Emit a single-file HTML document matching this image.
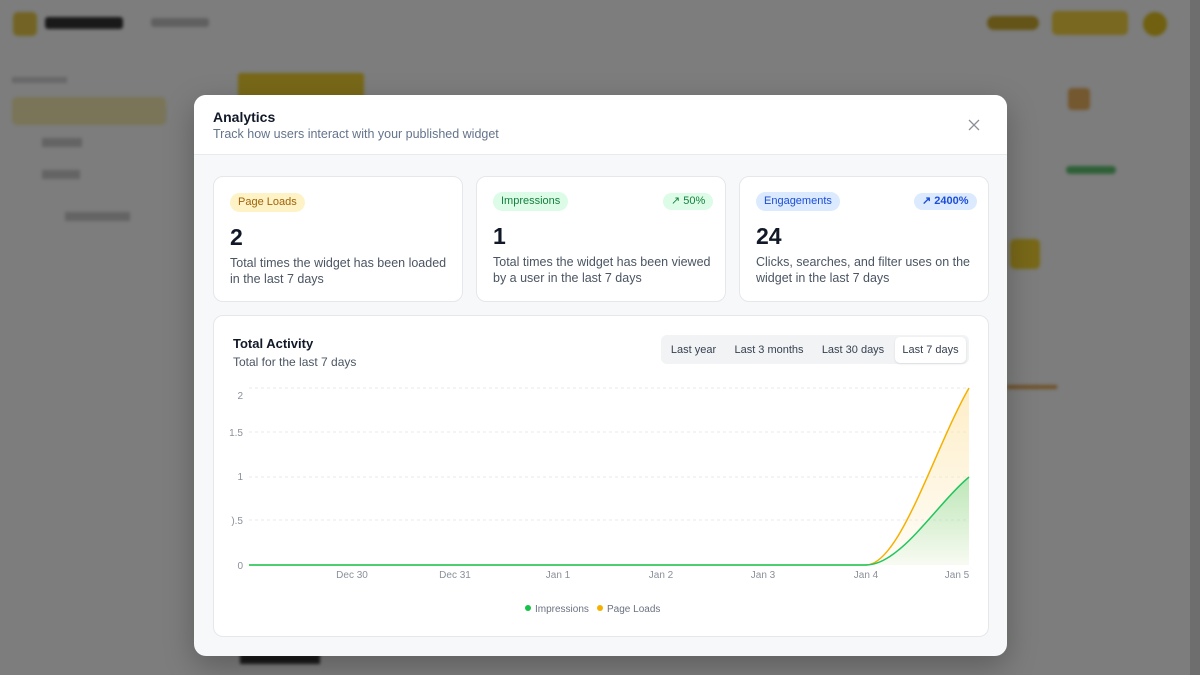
<!DOCTYPE html>
<html style="background:#7c7d7c"><head><meta charset="utf-8">
<style>
*{box-sizing:border-box;margin:0;padding:0}
body{width:1200px;height:675px;overflow:hidden;background:#f9faf9;font-family:"Liberation Sans",sans-serif;position:relative;color:#111827}
.abs{position:absolute}
.blur{filter:blur(1.5px)}
.ov{position:absolute;left:0;top:0;width:1200px;height:675px;background:rgba(0,0,0,0.5)}
.modal{position:absolute;left:194px;top:95px;width:813px;height:561px;background:#f7f8fa;border-radius:12px;overflow:hidden;box-shadow:0 10px 30px rgba(0,0,0,.25)}
.hdr{position:absolute;left:0;top:0;width:813px;height:60px;background:#fff;border-bottom:1px solid #e8eaee}
.card{position:absolute;background:#fff;border:1px solid #e5e7eb;border-radius:10px}
.pill{position:absolute;font-size:11px;padding:0 8px;height:19px;line-height:19px;border-radius:10px}
.big{position:absolute;font-size:23px;font-weight:bold;color:#111827}
.desc{position:absolute;font-size:12.5px;color:#4b5563;line-height:16px}
.tab{position:absolute;top:0;height:26px;line-height:26px;font-size:11px;color:#374151;text-align:center}
</style></head><body>
<div class="abs blur" style="left:13px;top:12px;width:24px;height:24px;background:#e6c84a;border-radius:5px"></div>
<div class="abs blur" style="left:45px;top:17px;width:78px;height:12px;background:#333;border-radius:3px"></div>
<div class="abs blur" style="left:151px;top:18px;width:58px;height:9px;background:#c0c0c0;border-radius:3px"></div>
<div class="abs blur" style="left:12px;top:77px;width:55px;height:6px;background:#d0d0d0"></div>
<div class="abs blur" style="left:12px;top:97px;width:154px;height:28px;background:#f4e9b0;border-radius:5px"></div>
<div class="abs blur" style="left:42px;top:138px;width:40px;height:9px;background:#c8c8c8"></div>
<div class="abs blur" style="left:42px;top:170px;width:38px;height:9px;background:#c8c8c8"></div>
<div class="abs blur" style="left:65px;top:212px;width:65px;height:9px;background:#c8c8c8"></div>
<div class="abs blur" style="left:238px;top:73px;width:126px;height:26px;background:#f0d030;border-radius:3px"></div>
<div class="abs blur" style="left:987px;top:16px;width:52px;height:14px;background:#c9a830;border-radius:7px"></div>
<div class="abs blur" style="left:1052px;top:11px;width:76px;height:24px;background:#f2d040;border-radius:5px"></div>
<div class="abs blur" style="left:1143px;top:12px;width:24px;height:24px;background:#e0c020;border-radius:12px"></div>
<div class="abs blur" style="left:1068px;top:88px;width:22px;height:22px;background:#e8b060;border-radius:4px"></div>
<div class="abs blur" style="left:1066px;top:166px;width:50px;height:8px;background:#60c070;border-radius:4px"></div>
<div class="abs blur" style="left:1010px;top:239px;width:30px;height:30px;background:#f0d030;border-radius:5px"></div>
<div class="abs blur" style="left:1007px;top:385px;width:50px;height:4px;background:#e0a050"></div>
<div class="abs blur" style="left:240px;top:654px;width:80px;height:10px;background:#333"></div>
<div class="ov"></div>
<div class="abs" style="left:1190px;top:0;width:10px;height:675px;background:#6d6e6d"></div>

<div class="modal">
  <div class="hdr">
    <div class="abs" style="left:19px;top:14px;font-size:14px;font-weight:bold">Analytics</div>
    <div class="abs" style="left:19px;top:32px;font-size:12.5px;color:#64748b">Track how users interact with your published widget</div>
    <svg class="abs" style="left:774px;top:24px" width="12" height="12"><path d="M1 1L11 11M11 1L1 11" stroke="#8a8f98" stroke-width="1.3"/></svg>
  </div>
  <div class="card" style="left:19px;top:81px;width:250px;height:126px">
    <div class="pill" style="left:16px;top:16px;background:#fef3c7;color:#a16207">Page Loads</div>
    <div class="big" style="left:16px;top:47px">2</div>
    <div class="desc" style="left:16px;top:78px;width:220px">Total times the widget has been loaded in the last 7 days</div>
  </div>
  <div class="card" style="left:282px;top:81px;width:250px;height:126px">
    <div class="pill" style="left:16px;top:15px;background:#dcfce7;color:#15803d">Impressions</div>
    <div class="pill" style="left:186px;top:16px;height:17px;line-height:17px;background:#dcfce7;color:#15803d">↗ 50%</div>
    <div class="big" style="left:16px;top:46px">1</div>
    <div class="desc" style="left:16px;top:77px;width:220px">Total times the widget has been viewed by a user in the last 7 days</div>
  </div>
  <div class="card" style="left:545px;top:81px;width:250px;height:126px">
    <div class="pill" style="left:16px;top:15px;background:#dbeafe;color:#1d4ed8">Engagements</div>
    <div class="pill" style="left:174px;top:16px;height:17px;line-height:17px;background:#dbeafe;color:#1d4ed8;font-weight:bold">↗ 2400%</div>
    <div class="big" style="left:16px;top:46px">24</div>
    <div class="desc" style="left:16px;top:77px;width:220px">Clicks, searches, and filter uses on the widget in the last 7 days</div>
  </div>
  <div class="card" style="left:19px;top:220px;width:776px;height:322px">
    <div class="abs" style="left:19px;top:20px;font-size:13px;font-weight:bold">Total Activity</div>
    <div class="abs" style="left:19px;top:39px;font-size:12px;color:#4b5563">Total for the last 7 days</div>
    <div class="abs" style="left:447px;top:19px;width:308px;height:29px;background:#f1f3f5;border-radius:6px">
      <div class="tab" style="left:4px;top:2px;width:57px">Last year</div>
      <div class="tab" style="left:68px;top:2px;width:80px">Last 3 months</div>
      <div class="tab" style="left:154px;top:2px;width:76px">Last 30 days</div>
      <div class="tab" style="left:234px;top:2px;width:71px;background:#fff;border-radius:5px;box-shadow:0 1px 2px rgba(0,0,0,.1)">Last 7 days</div>
    </div>
  </div>
  <svg class="abs" style="left:0;top:0" width="813" height="561">
    <defs>
      <linearGradient id="gy" x1="0" y1="0" x2="0" y2="1"><stop offset="0" stop-color="#fde7b0" stop-opacity=".7"/><stop offset="1" stop-color="#fde7b0" stop-opacity=".1"/></linearGradient>
      <linearGradient id="gg" x1="0" y1="0" x2="0" y2="1"><stop offset="0" stop-color="#22c55e" stop-opacity=".3"/><stop offset="1" stop-color="#22c55e" stop-opacity=".03"/></linearGradient>
    </defs>
    <g stroke="#e8eaee" stroke-dasharray="3 3" stroke-width="1">
      <line x1="55" x2="775" y1="293" y2="293"/><line x1="55" x2="775" y1="337" y2="337"/>
      <line x1="55" x2="775" y1="382" y2="382"/><line x1="55" x2="775" y1="425" y2="425"/>
    </g>
    <g font-family="Liberation Sans" font-size="10" fill="#8a909a" text-anchor="end">
      <text x="49" y="304">2</text><text x="49" y="341">1.5</text><text x="49" y="385">1</text>
      <text x="49" y="429">).5</text><text x="49" y="474">0</text>
    </g>
    <g font-family="Liberation Sans" font-size="10" fill="#8a909a" text-anchor="middle">
      <text x="158" y="483">Dec 30</text><text x="261" y="483">Dec 31</text><text x="364" y="483">Jan 1</text>
      <text x="467" y="483">Jan 2</text><text x="569" y="483">Jan 3</text><text x="672" y="483">Jan 4</text><text x="763" y="483">Jan 5</text>
    </g>
    <path d="M672 470C706 470 741 352 775 293L775 470Z" fill="url(#gy)"/>
    <path d="M672 470C706 470 741 411 775 382L775 470Z" fill="url(#gg)"/>
    <path d="M55 470L672 470C706 470 741 352 775 293" fill="none" stroke="#f5b000" stroke-width="1.5"/>
    <path d="M55 470L672 470C706 470 741 411 775 382" fill="none" stroke="#22c55e" stroke-width="1.5"/>
    <path d="M55 470L672 470" stroke="#4ccf6e" stroke-width="2"/>
    <circle cx="334" cy="513" r="3" fill="#16c24a"/>
    <text x="341" y="517" font-family="Liberation Sans" font-size="10" fill="#6b7280">Impressions</text>
    <circle cx="406" cy="513" r="3" fill="#f5b000"/>
    <text x="413" y="517" font-family="Liberation Sans" font-size="10" fill="#6b7280">Page Loads</text>
  </svg>
</div>
</body></html>
